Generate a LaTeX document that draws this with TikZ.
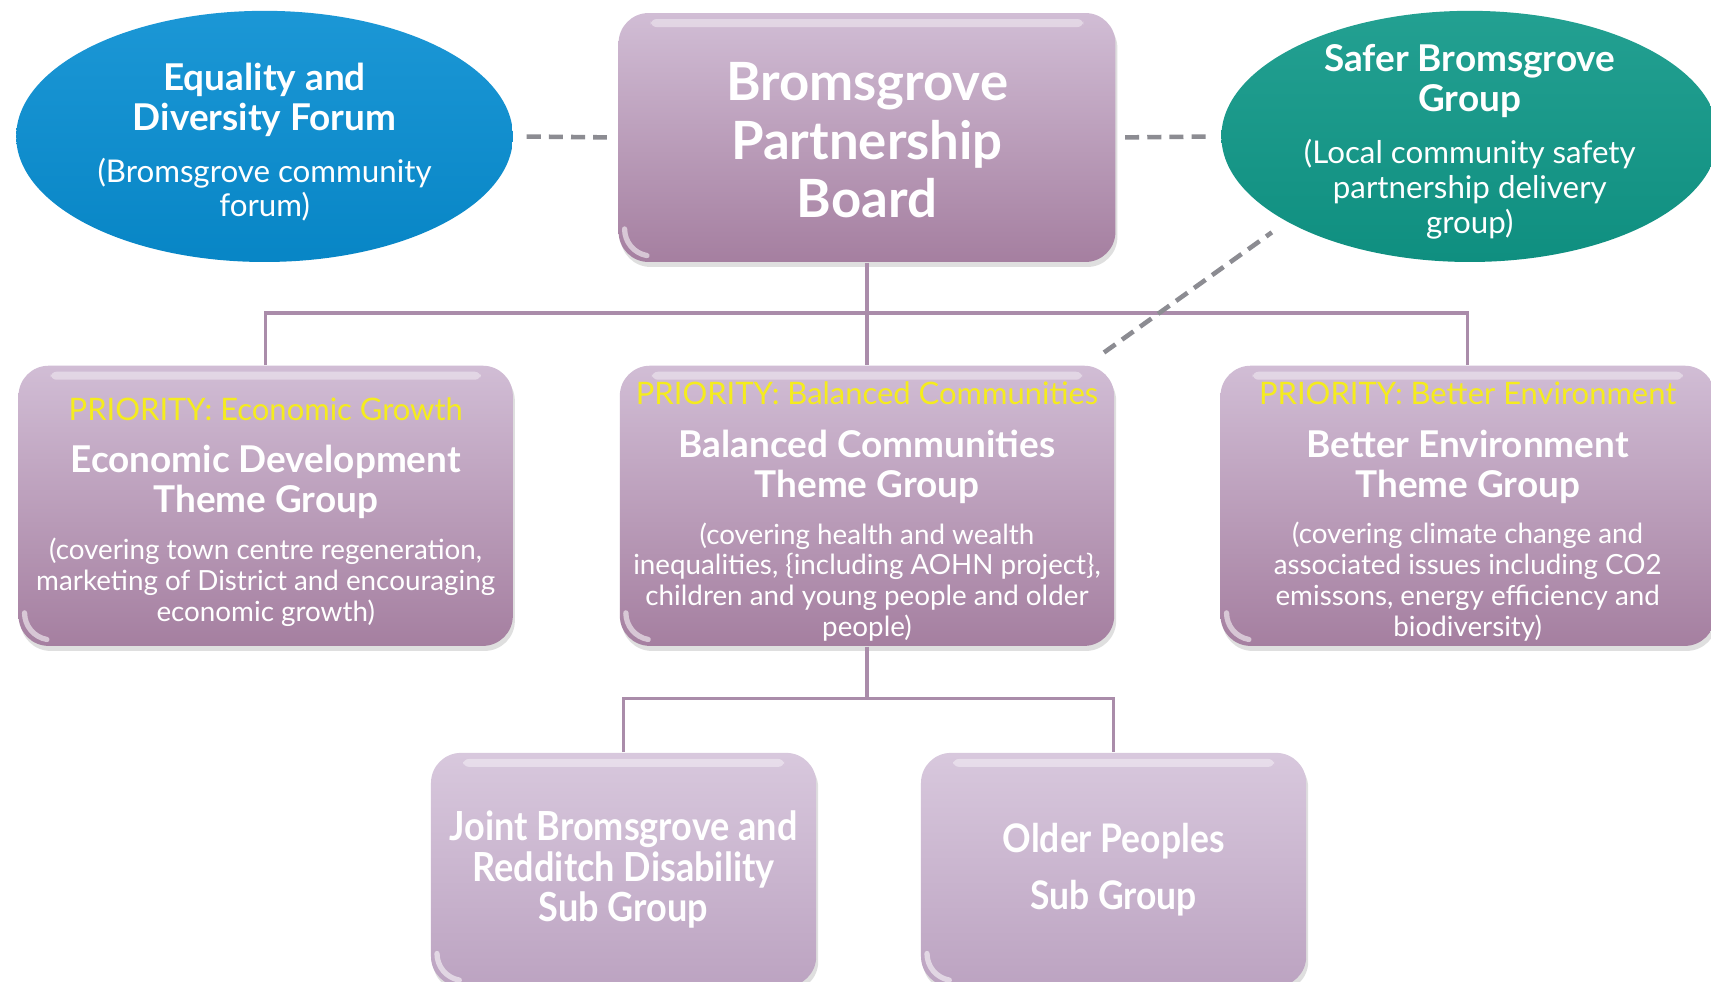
\documentclass[tikz,border=0pt]{standalone}
\usepackage{fontspec}
\setmainfont{Lato}
\newfontfamily\condfont[FakeStretch=0.9]{Lato}
\usepackage{tikz}
\usetikzlibrary{shapes.geometric}
\usetikzlibrary{shadows}
\tikzset{>=latex}

\definecolor{boxtop}{RGB}{209,189,213}
\definecolor{boxbot}{RGB}{165,127,160}
\definecolor{subtop}{RGB}{216,200,221}
\definecolor{subbot}{RGB}{188,163,193}
\definecolor{forumblue}{RGB}{8,142,210}
\definecolor{forumteal}{RGB}{16,152,136}
\definecolor{prioyellow}{RGB}{245,236,30}
\definecolor{linkpurple}{RGB}{170,140,170}
\definecolor{assocgray}{RGB}{140,140,146}

\newcommand{\textlines}[3]{{\noindent\fontsize{#1}{#2}\selectfont #3\par}}

\tikzset{
  gloss/.style={path picture={
      \fill[white,opacity=0.4,rounded corners=0.06cm]
        ([xshift=0.32cm,yshift=-0.06cm]path picture bounding box.north west) rectangle
        ([xshift=-0.32cm,yshift=-0.14cm]path picture bounding box.north east);
      \draw[white,opacity=0.55,line width=1.5pt,line cap=round]
        ([xshift=0.06cm,yshift=0.33cm]path picture bounding box.south west) arc (180:260:0.27cm);}},
  board/.style={rounded corners=0.3cm, top color=boxtop, bottom color=boxbot,
    minimum width=4.965cm, minimum height=2.488cm, inner sep=0pt, gloss,
    drop shadow={opacity=0.25,shadow xshift=0.02cm,shadow yshift=-0.05cm}},
  theme/.style={board, minimum width=4.94cm, minimum height=2.80cm},
  subgroup/.style={board, top color=subtop, bottom color=subbot,
    minimum width=3.85cm, minimum height=2.335cm},
  boxtext/.style={text width=4.9cm, align=flush center, text=white, inner sep=0pt},
  forum/.style={ellipse, minimum width=4.965cm, minimum height=2.51cm, inner sep=0pt},
  forumtext/.style={boxtext, text width=4.4cm, yshift=-0.055cm},
  link/.style={draw=linkpurple, line width=1pt},
  assoc/.style={draw=assocgray, line width=1.3pt, dash pattern=on 4pt off 2.3pt},
}

\begin{document}
\begin{tikzpicture}[x=0.01cm,y=-0.01cm]
  \useasboundingbox[fill=white] (0,0) rectangle (1711,981);
  % top row
  \node[forum, top color=forumblue!92!white, bottom color=forumblue!94!black] (eq) at (264.6,136.4) {};
  \node[forumtext] (eqtext) at (eq.center) {%
    \textlines{10.5}{11.5}{\bfseries Equality and\\Diversity Forum}\vskip5.1pt
    \textlines{8.9}{9.7}{(Bromsgrove community\\forum)}};
  \node[forum, top color=forumteal!92!white, bottom color=forumteal!94!black] (saf) at (1469.8,136.4) {};
  \node[forumtext] (saftext) at (saf.center) {%
    \textlines{10.5}{11.3}{\bfseries Safer Bromsgrove\\Group}\vskip5pt
    \textlines{8.9}{9.9}{(Local community safety\\partnership delivery\\group)}};
  \node[board] (board) at (867,137.5) {};
  \node[boxtext, yshift=-0.028cm] (boardtext) at (board.center) {%
    \textlines{15}{16.6}{\bfseries Bromsgrove\\Partnership\\Board}};
  % theme groups
  \node[theme] (eco) at (265.7,505.8) {};
  \node[boxtext, yshift=-0.06cm] (ecotext) at (eco.center) {%
    \textlines{8.8}{10}{\color{prioyellow}PRIORITY: Economic Growth}\vskip3.6pt
    \textlines{10.5}{11.4}{\bfseries Economic Development\\Theme Group}\vskip4.4pt
    \textlines{7.9}{8.8}{(covering town centre regeneration,\\marketing of District and encouraging\\economic growth)}};
  \node[theme] (bal) at (867,505.8) {};
  \node[boxtext, yshift=-0.06cm] (baltext) at (bal.center) {%
    \textlines{8.8}{10}{\color{prioyellow}PRIORITY: Balanced Communities}\vskip3.6pt
    \textlines{10.5}{11.4}{\bfseries Balanced Communities\\Theme Group}\vskip4.4pt
    \textlines{7.9}{8.8}{(covering health and wealth\\inequalities, \{including AOHN project\},\\children and young people and older\\people)}};
  \node[theme] (env) at (1467.7,505.8) {};
  \node[boxtext, yshift=-0.06cm] (envtext) at (env.center) {%
    \textlines{8.8}{10}{\color{prioyellow}PRIORITY: Better Environment}\vskip3.6pt
    \textlines{10.5}{11.4}{\bfseries Better Environment\\Theme Group}\vskip4.4pt
    \textlines{7.9}{8.8}{(covering climate change and\\associated issues including CO2\\emissons, energy efficiency and\\biodiversity)}};
  % sub groups
  \node[subgroup] (dis) at (623.6,869.7) {};
  \node[boxtext, text width=3.8cm] (distext) at (dis.center) {%
    \textlines{11.4}{11.5}{\condfont\bfseries Joint Bromsgrove and\\Redditch Disability\\Sub Group}};
  \node[subgroup] (old) at (1113.6,869.7) {};
  \node[boxtext, text width=3.8cm] (oldtext) at (old.center) {%
    \textlines{11.2}{16}{\condfont\bfseries Older Peoples\\Sub Group}};
  % tree
  \coordinate (j1) at (867,313.2);
  \coordinate (j2) at (867,698.4);
  \draw[link] (board.south) -- (bal.north);
  \draw[link] (eco.north) |- (j1) -| (env.north);
  \draw[link] (bal.south) -- (j2);
  \draw[link] (dis.north) |- (j2) -| (old.north);
  % dashed links
  \draw[assoc, shorten <=0.13cm, shorten >=0.11cm] (eq.east) -- (board.west);
  \draw[assoc, shorten <=0.09cm, shorten >=0.14cm] (board.east) -- (saf.west);
  \coordinate (dstart) at (1104,352.5);
  \draw[assoc, shorten >=0.18cm] (dstart) -- (saf.205);
\end{tikzpicture}
\end{document}
